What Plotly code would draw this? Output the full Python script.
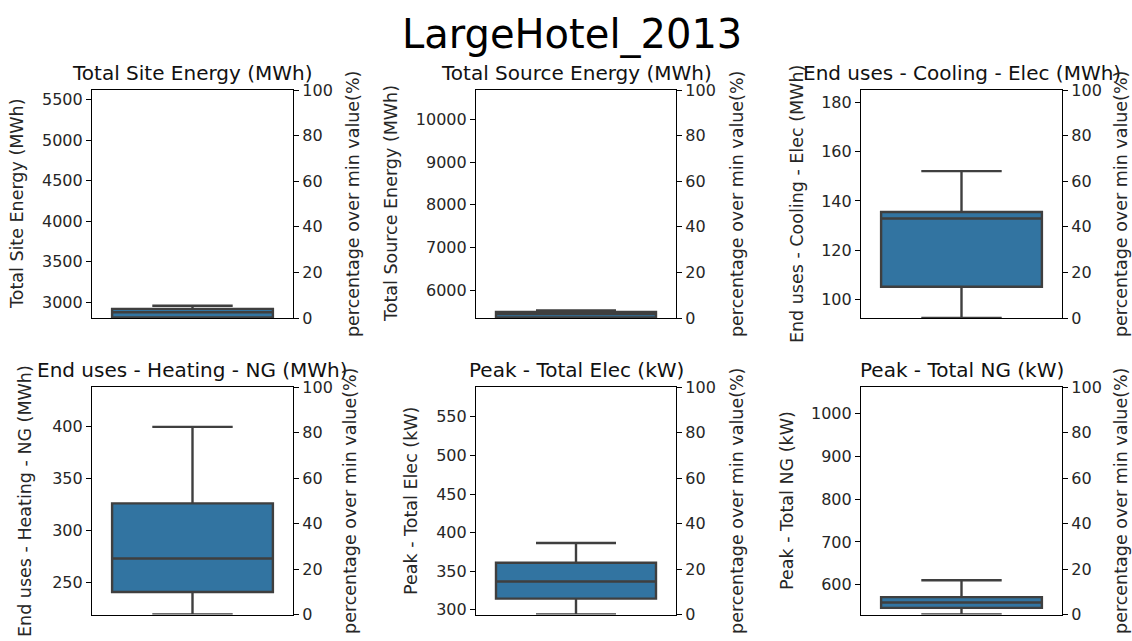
import plotly.graph_objects as go

# Summary statistics for each metric (whisker low, Q1, median, Q3, whisker high)
metrics = [
    "Total Site Energy (MWh)",
    "Total Source Energy (MWh)",
    "End uses - Cooling - Elec (MWh)",
    "End uses - Heating - NG (MWh)",
    "Peak - Total Elec (kW)",
    "Peak - Total NG (kW)",
]
low_whisker = [2808, 5345, 92.5, 219.0, 294.0, 530.5]
q1_values = [2815, 5360, 105.2, 240.7, 314.6, 546.0]
median_values = [2880, 5440, 132.9, 273.0, 336.8, 558.6]
q3_values = [2921, 5489, 135.5, 326.2, 361.0, 571.0]
high_whisker = [2960, 5525, 152.1, 400.0, 386.6, 610.4]
left_tick_step = [500, 1000, 20, 50, 50, 100]
pct_ticks = [0, 20, 40, 60, 80, 100]

W, H = 1132, 641
FONT = "DejaVu Sans"
BOX_FILL = "#3274a1"
BOX_LINE = "#3f3f3f"
TEXT = "#262626"

# Plot-area rectangles in pixels: (left, right, top, bottom)
cols = [(92, 293), (476, 676), (861, 1062)]
rows = [(83.5, 318.5), (390, 624)]
left_title_x = [17, 391, 797, 25, 411, 787]
right_title_x = [353, 737, 1121, 350, 737, 1121]
title_y = [66, 372]

fig = go.Figure()
annotations = []

for i, name in enumerate(metrics):
    r, c = divmod(i, 3)
    x0, x1 = cols[c]
    y0, y1 = rows[r]
    n = i + 1
    xa = "x" if n == 1 else f"x{n}"
    ya = f"y{2 * n - 1}" if n > 1 else "y"
    ya2 = f"y{2 * n}"
    xdom = [x0 / W, x1 / W]
    ydom = [1 - y1 / H, 1 - y0 / H]
    lo = low_whisker[i]

    fig.add_trace(go.Box(
        x=[0], q1=[q1_values[i]], median=[median_values[i]], q3=[q3_values[i]],
        lowerfence=[lo], upperfence=[high_whisker[i]],
        width=0.8, whiskerwidth=0.5, boxpoints=False,
        fillcolor=BOX_FILL, line=dict(color=BOX_LINE, width=2.4),
        xaxis=xa, yaxis=ya, showlegend=False, hoverinfo="skip",
    ))
    # Invisible trace to activate the right-hand percentage axis
    fig.add_trace(go.Scatter(
        x=[0], y=[0], mode="markers", marker=dict(opacity=0),
        xaxis=xa, yaxis=ya2, showlegend=False, hoverinfo="skip",
    ))

    xkey = "xaxis" if n == 1 else f"xaxis{n}"
    ykey = "yaxis" if n == 1 else f"yaxis{2 * n - 1}"
    ykey2 = f"yaxis{2 * n}"
    fig.layout[xkey] = dict(
        domain=xdom, anchor=ya, range=[-0.5, 0.5], showticklabels=False,
        showgrid=False, zeroline=False, showline=True, mirror=True,
        linecolor="black", linewidth=1.2, ticks="", fixedrange=True,
    )
    fig.layout[ykey] = dict(
        domain=ydom, anchor=xa, range=[lo, 2 * lo], dtick=left_tick_step[i],
        tick0=0, tickformat="d", showgrid=False, zeroline=False, showline=True,
        linecolor="black", linewidth=1.2, ticks="outside", ticklen=5,
        tickcolor="black", tickfont=dict(family=FONT, size=16, color=TEXT),
        fixedrange=True,
    )
    fig.layout[ykey2] = dict(
        domain=ydom, anchor=xa, overlaying=ya, side="right", range=[0, 100],
        tickvals=pct_ticks, showgrid=False, zeroline=False, showline=True,
        linecolor="black", linewidth=1.2, ticks="outside", ticklen=5,
        tickcolor="black", tickfont=dict(family=FONT, size=16, color=TEXT),
        fixedrange=True,
    )

    ymid = 1 - (y0 + y1) / 2 / H
    # Subplot title
    annotations.append(dict(
        text=name, x=(x0 + x1) / 2 / W, y=1 - title_y[r] / H, xref="paper",
        yref="paper", xanchor="center", yanchor="middle", showarrow=False,
        font=dict(family=FONT, size=20, color="#111111"),
    ))
    # Left axis label
    annotations.append(dict(
        text=name, x=left_title_x[i] / W, y=ymid, xref="paper", yref="paper",
        xanchor="center", yanchor="middle", textangle=-90, showarrow=False,
        font=dict(family=FONT, size=17.5, color=TEXT),
    ))
    # Right axis label
    annotations.append(dict(
        text="percentage over min value(%)", x=right_title_x[i] / W, y=ymid,
        xref="paper", yref="paper", xanchor="center", yanchor="middle",
        textangle=-90, showarrow=False,
        font=dict(family=FONT, size=17.5, color=TEXT),
    ))

annotations.append(dict(
    text="LargeHotel_2013", x=572 / W, y=1 - 26 / H, xref="paper", yref="paper",
    xanchor="center", yanchor="middle", showarrow=False,
    font=dict(family=FONT, size=40, color="black"),
))

fig.update_layout(
    width=W, height=H, margin=dict(l=0, r=0, t=0, b=0),
    paper_bgcolor="white", plot_bgcolor="white",
    annotations=annotations, showlegend=False,
)

fig.write_html("out.html", config={"displayModeBar": False})
